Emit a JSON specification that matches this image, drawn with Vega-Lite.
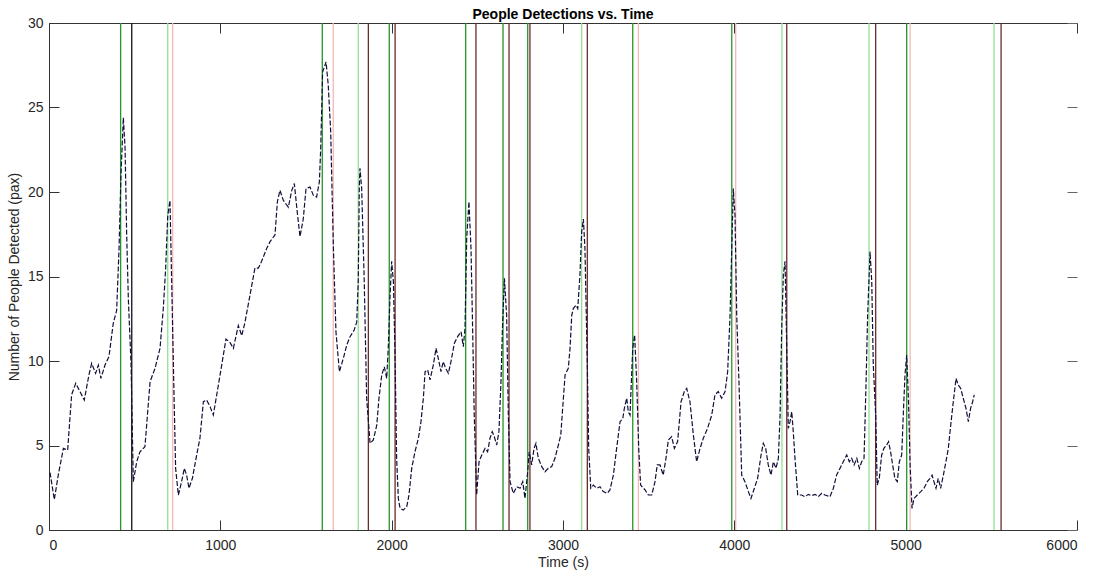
{
  "$schema": "https://vega.github.io/schema/vega-lite/v6.json",
  "width": 1028,
  "height": 507,
  "autosize": {"type": "none"},
  "padding": {"left": 49, "top": 23, "right": 20, "bottom": 43},
  "background": "white",
  "title": {"text": "People Detections vs. Time", "font": "Liberation Sans", "fontSize": 14, "fontWeight": "bold", "color": "#000000", "anchor": "middle", "offset": -6},
  "config": {
    "view": {"stroke": null},
    "axis": {"labelFont": "Liberation Sans", "titleFont": "Liberation Sans", "labelFontSize": 14, "titleFontSize": 14, "titleFontWeight": "normal", "labelColor": "#262626", "titleColor": "#262626", "domainColor": "#333333", "tickColor": "#333333", "grid": false}
  },
  "datasets": {
    "events": [
      {"t": 418, "kind": "start"}, {"t": 483, "kind": "end-dark"}, {"t": 693, "kind": "start-faint"}, {"t": 722, "kind": "end-faint"},
      {"t": 1595, "kind": "start"}, {"t": 1659, "kind": "end-faint"}, {"t": 1805, "kind": "start-faint"}, {"t": 1864, "kind": "end"},
      {"t": 1986, "kind": "start"}, {"t": 2020, "kind": "end"}, {"t": 2432, "kind": "start"}, {"t": 2492, "kind": "end"},
      {"t": 2650, "kind": "start"}, {"t": 2685, "kind": "end"}, {"t": 2794, "kind": "start"}, {"t": 2807, "kind": "end"},
      {"t": 3109, "kind": "start-faint"}, {"t": 3142, "kind": "end"}, {"t": 3407, "kind": "start"}, {"t": 3440, "kind": "end-faint"},
      {"t": 3985, "kind": "start"}, {"t": 4008, "kind": "end-faint"}, {"t": 4278, "kind": "start-faint"}, {"t": 4306, "kind": "end"},
      {"t": 4786, "kind": "start-faint"}, {"t": 4825, "kind": "end"}, {"t": 5006, "kind": "start"}, {"t": 5026, "kind": "end-faint"},
      {"t": 5516, "kind": "start-faint"}, {"t": 5557, "kind": "end"}
    ],
    "detections": [
      {"t":6,"n":3.4},{"t":31,"n":1.8},{"t":54,"n":3.25},{"t":84,"n":4.83},{"t":109,"n":4.73},{"t":132,"n":8.0},{"t":156,"n":8.68},{"t":181,"n":8.19},{"t":206,"n":7.69},{"t":233,"n":9.17},{"t":249,"n":9.86},{"t":272,"n":9.27},{"t":288,"n":9.76},{"t":303,"n":8.97},{"t":327,"n":9.76},{"t":350,"n":10.26},{"t":375,"n":12.23},{"t":395,"n":13.0},{"t":409,"n":16.7},{"t":420,"n":21.0},{"t":434,"n":24.4},{"t":444,"n":22.6},{"t":453,"n":17.65},{"t":463,"n":13.7},{"t":479,"n":9.76},{"t":492,"n":2.86},{"t":512,"n":4.04},{"t":531,"n":4.63},{"t":560,"n":4.93},{"t":590,"n":8.78},{"t":619,"n":9.57},{"t":648,"n":10.75},{"t":667,"n":13.1},{"t":681,"n":15.5},{"t":693,"n":18.6},{"t":706,"n":19.5},{"t":716,"n":14.7},{"t":726,"n":9.76},{"t":739,"n":3.65},{"t":755,"n":2.07},{"t":774,"n":2.86},{"t":790,"n":3.65},{"t":803,"n":3.25},{"t":817,"n":2.47},{"t":837,"n":3.06},{"t":862,"n":4.44},{"t":881,"n":5.43},{"t":901,"n":7.59},{"t":920,"n":7.69},{"t":940,"n":7.3},{"t":959,"n":6.8},{"t":979,"n":8.0},{"t":1008,"n":9.76},{"t":1033,"n":11.3},{"t":1056,"n":11.1},{"t":1076,"n":10.75},{"t":1105,"n":12.1},{"t":1125,"n":11.5},{"t":1144,"n":12.3},{"t":1173,"n":13.9},{"t":1202,"n":15.5},{"t":1222,"n":15.5},{"t":1241,"n":15.9},{"t":1271,"n":16.67},{"t":1290,"n":17.06},{"t":1319,"n":17.46},{"t":1333,"n":19.43},{"t":1348,"n":20.1},{"t":1368,"n":19.5},{"t":1397,"n":19.1},{"t":1417,"n":20.1},{"t":1432,"n":20.5},{"t":1449,"n":18.8},{"t":1465,"n":17.36},{"t":1484,"n":18.4},{"t":1500,"n":20.2},{"t":1523,"n":20.3},{"t":1543,"n":19.8},{"t":1562,"n":19.7},{"t":1578,"n":20.6},{"t":1586,"n":22.6},{"t":1597,"n":27.1},{"t":1617,"n":27.7},{"t":1630,"n":26.3},{"t":1644,"n":23.6},{"t":1660,"n":16.67},{"t":1675,"n":11.7},{"t":1695,"n":9.37},{"t":1718,"n":10.16},{"t":1738,"n":10.95},{"t":1757,"n":11.44},{"t":1780,"n":11.8},{"t":1796,"n":12.3},{"t":1805,"n":14.7},{"t":1811,"n":20.2},{"t":1815,"n":21.4},{"t":1825,"n":20.2},{"t":1840,"n":14.7},{"t":1854,"n":7.8},{"t":1874,"n":5.13},{"t":1893,"n":5.33},{"t":1913,"n":6.2},{"t":1926,"n":7.8},{"t":1942,"n":9.17},{"t":1957,"n":9.66},{"t":1971,"n":8.97},{"t":1980,"n":10.75},{"t":1990,"n":13.7},{"t":2000,"n":15.9},{"t":2010,"n":14.7},{"t":2019,"n":10.75},{"t":2029,"n":4.24},{"t":2039,"n":1.87},{"t":2049,"n":1.28},{"t":2068,"n":1.18},{"t":2088,"n":1.38},{"t":2101,"n":2.07},{"t":2117,"n":3.65},{"t":2136,"n":4.63},{"t":2156,"n":5.43},{"t":2171,"n":6.41},{"t":2185,"n":7.8},{"t":2195,"n":9.37},{"t":2210,"n":9.47},{"t":2224,"n":8.88},{"t":2243,"n":9.76},{"t":2259,"n":10.75},{"t":2272,"n":10.16},{"t":2288,"n":9.37},{"t":2301,"n":9.96},{"t":2315,"n":9.57},{"t":2331,"n":9.27},{"t":2346,"n":9.96},{"t":2366,"n":11.05},{"t":2385,"n":11.44},{"t":2405,"n":11.73},{"t":2418,"n":10.85},{"t":2428,"n":11.93},{"t":2438,"n":17.26},{"t":2451,"n":19.43},{"t":2463,"n":16.67},{"t":2471,"n":12.7},{"t":2482,"n":6.8},{"t":2496,"n":2.07},{"t":2510,"n":4.04},{"t":2526,"n":4.44},{"t":2545,"n":4.83},{"t":2560,"n":4.63},{"t":2574,"n":5.43},{"t":2587,"n":5.82},{"t":2599,"n":5.52},{"t":2613,"n":5.03},{"t":2626,"n":5.82},{"t":2638,"n":8.78},{"t":2646,"n":11.73},{"t":2658,"n":14.9},{"t":2671,"n":12.7},{"t":2681,"n":6.8},{"t":2691,"n":2.86},{"t":2710,"n":2.17},{"t":2730,"n":2.56},{"t":2749,"n":2.47},{"t":2765,"n":2.86},{"t":2778,"n":1.87},{"t":2792,"n":3.25},{"t":2803,"n":4.63},{"t":2817,"n":3.85},{"t":2831,"n":4.83},{"t":2842,"n":5.13},{"t":2856,"n":4.24},{"t":2876,"n":3.75},{"t":2895,"n":3.45},{"t":2914,"n":3.65},{"t":2934,"n":3.75},{"t":2953,"n":4.24},{"t":2973,"n":5.03},{"t":2987,"n":5.62},{"t":2998,"n":7.2},{"t":3012,"n":9.17},{"t":3031,"n":9.57},{"t":3041,"n":10.75},{"t":3051,"n":12.7},{"t":3060,"n":13.1},{"t":3076,"n":13.3},{"t":3086,"n":13.1},{"t":3099,"n":15.1},{"t":3109,"n":17.65},{"t":3119,"n":18.4},{"t":3128,"n":16.67},{"t":3134,"n":13.7},{"t":3142,"n":9.76},{"t":3150,"n":4.83},{"t":3162,"n":2.47},{"t":3177,"n":2.66},{"t":3197,"n":2.47},{"t":3216,"n":2.56},{"t":3235,"n":2.27},{"t":3259,"n":2.17},{"t":3274,"n":2.37},{"t":3294,"n":3.25},{"t":3313,"n":4.83},{"t":3333,"n":6.41},{"t":3349,"n":6.6},{"t":3358,"n":7.2},{"t":3372,"n":7.8},{"t":3381,"n":7.0},{"t":3391,"n":6.8},{"t":3407,"n":10.75},{"t":3418,"n":11.54},{"t":3430,"n":8.78},{"t":3442,"n":4.83},{"t":3453,"n":2.66},{"t":3479,"n":2.37},{"t":3498,"n":2.07},{"t":3518,"n":2.07},{"t":3537,"n":2.86},{"t":3550,"n":3.85},{"t":3566,"n":3.85},{"t":3585,"n":3.25},{"t":3601,"n":4.24},{"t":3615,"n":5.33},{"t":3634,"n":5.52},{"t":3650,"n":4.83},{"t":3669,"n":5.23},{"t":3689,"n":7.59},{"t":3708,"n":8.19},{"t":3722,"n":8.38},{"t":3741,"n":7.59},{"t":3761,"n":5.62},{"t":3780,"n":4.04},{"t":3800,"n":4.83},{"t":3819,"n":5.43},{"t":3844,"n":6.02},{"t":3868,"n":6.8},{"t":3887,"n":8.0},{"t":3906,"n":8.19},{"t":3926,"n":7.8},{"t":3946,"n":8.19},{"t":3961,"n":9.37},{"t":3975,"n":12.7},{"t":3985,"n":16.67},{"t":3994,"n":20.2},{"t":4004,"n":18.6},{"t":4014,"n":12.7},{"t":4027,"n":8.78},{"t":4043,"n":3.25},{"t":4062,"n":2.86},{"t":4082,"n":2.27},{"t":4097,"n":1.87},{"t":4117,"n":2.47},{"t":4136,"n":3.06},{"t":4156,"n":4.44},{"t":4169,"n":5.13},{"t":4183,"n":4.83},{"t":4198,"n":3.85},{"t":4214,"n":3.25},{"t":4228,"n":4.04},{"t":4243,"n":3.65},{"t":4257,"n":4.24},{"t":4267,"n":6.8},{"t":4276,"n":11.73},{"t":4286,"n":15.1},{"t":4296,"n":15.9},{"t":4306,"n":10.75},{"t":4315,"n":6.02},{"t":4325,"n":6.41},{"t":4335,"n":7.0},{"t":4344,"n":5.82},{"t":4354,"n":4.24},{"t":4370,"n":2.07},{"t":4393,"n":2.07},{"t":4412,"n":1.97},{"t":4432,"n":2.11},{"t":4451,"n":2.03},{"t":4471,"n":2.11},{"t":4490,"n":1.97},{"t":4510,"n":2.17},{"t":4529,"n":2.07},{"t":4558,"n":1.97},{"t":4578,"n":2.47},{"t":4597,"n":3.25},{"t":4617,"n":3.65},{"t":4636,"n":4.04},{"t":4656,"n":4.44},{"t":4671,"n":4.04},{"t":4685,"n":4.24},{"t":4699,"n":3.85},{"t":4715,"n":4.24},{"t":4730,"n":3.65},{"t":4743,"n":4.04},{"t":4757,"n":4.24},{"t":4769,"n":8.78},{"t":4778,"n":12.7},{"t":4792,"n":16.47},{"t":4802,"n":14.7},{"t":4811,"n":9.76},{"t":4825,"n":6.8},{"t":4834,"n":2.66},{"t":4846,"n":3.06},{"t":4860,"n":4.44},{"t":4873,"n":4.83},{"t":4889,"n":5.03},{"t":4900,"n":5.23},{"t":4912,"n":4.63},{"t":4924,"n":3.85},{"t":4937,"n":3.06},{"t":4951,"n":2.86},{"t":4963,"n":4.04},{"t":4977,"n":4.44},{"t":4986,"n":6.8},{"t":4996,"n":9.17},{"t":5006,"n":10.35},{"t":5016,"n":7.8},{"t":5026,"n":3.85},{"t":5037,"n":1.28},{"t":5049,"n":1.87},{"t":5068,"n":2.07},{"t":5088,"n":2.27},{"t":5107,"n":2.47},{"t":5126,"n":2.86},{"t":5142,"n":3.06},{"t":5154,"n":3.25},{"t":5165,"n":2.86},{"t":5177,"n":2.47},{"t":5190,"n":3.06},{"t":5204,"n":2.47},{"t":5220,"n":3.25},{"t":5235,"n":4.04},{"t":5249,"n":4.83},{"t":5263,"n":6.21},{"t":5278,"n":7.59},{"t":5294,"n":8.97},{"t":5307,"n":8.58},{"t":5321,"n":8.38},{"t":5336,"n":7.8},{"t":5352,"n":7.2},{"t":5366,"n":6.41},{"t":5379,"n":7.2},{"t":5391,"n":7.59},{"t":5400,"n":8.0}
    ]
  },
  "layer": [
    {
      "data": {"name": "events"},
      "mark": {"type": "rule", "strokeWidth": 1.3},
      "encoding": {
        "x": {"field": "t", "type": "quantitative", "scale": {"domain": [0, 6000], "nice": false, "zero": false},
              "axis": {"orient": "top", "labels": false, "title": null, "values": [0, 1000, 2000, 3000, 4000, 5000, 6000], "tickSize": -10, "domain": true}},
        "y": {"datum": 0, "type": "quantitative", "scale": {"domain": [0, 30], "nice": false},
              "axis": {"orient": "right", "labels": false, "title": null, "values": [0, 5, 10, 15, 20, 25, 30], "tickSize": -10, "domain": false, "tickColor": "#666666"}},
        "y2": {"datum": 30},
        "color": {"field": "kind", "type": "nominal", "legend": null,
                  "scale": {"domain": ["start", "start-faint", "end", "end-faint", "end-dark"], "range": ["#23962a", "#93e093", "#6b2b2b", "#f5b8b8", "#111111"]}}
      }
    },
    {
      "data": {"name": "detections"},
      "mark": {"type": "line", "strokeDash": [5, 2], "strokeWidth": 1.2, "color": "#10103a", "interpolate": "linear"},
      "encoding": {
        "x": {"field": "t", "type": "quantitative",
              "axis": {"orient": "bottom", "title": "Time (s)", "values": [0, 1000, 2000, 3000, 4000, 5000, 6000], "tickSize": -10, "labelPadding": 18, "titlePadding": 3, "format": "d"}},
        "y": {"field": "n", "type": "quantitative",
              "axis": {"orient": "left", "title": "Number of People Detected (pax)", "values": [0, 5, 10, 15, 20, 25, 30], "tickSize": -10, "labelPadding": 16, "titlePadding": 6}}
      }
    }
  ],
  "resolve": {"axis": {"x": "independent", "y": "independent"}}
}
